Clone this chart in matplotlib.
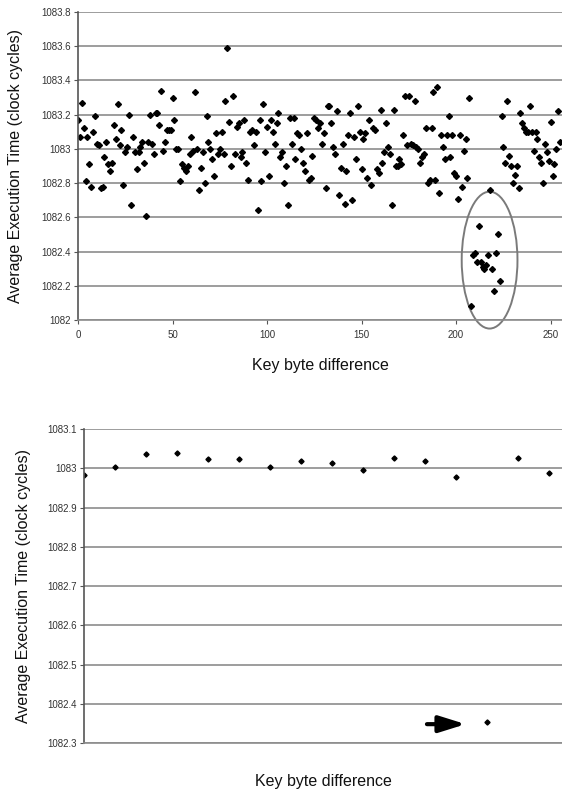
import numpy as np
import matplotlib.pyplot as plt
from matplotlib.patches import Ellipse
from matplotlib.ticker import FuncFormatter

plt.rcParams['font.family'] = ['Liberation Sans', 'DejaVu Sans']

# top chart: one average per key byte difference 0..255
top_y = [
    1083.17, 1083.07, 1083.27, 1083.12, 1082.81, 1083.07, 1082.91, 1082.78, 1083.10, 1083.19,
    1083.03, 1083.02, 1082.77, 1082.78, 1082.95, 1083.04, 1082.91, 1082.87, 1082.92, 1083.14,
    1083.06, 1083.26, 1083.02, 1083.11, 1082.79, 1082.98, 1083.01, 1083.20, 1082.67, 1083.07,
    1082.98, 1082.88, 1082.98, 1083.01, 1083.04, 1082.92, 1082.61, 1083.04, 1083.20, 1083.03,
    1082.97, 1083.21, 1083.21, 1083.14, 1083.34, 1082.99, 1083.04, 1083.11, 1083.11, 1083.11,
    1083.30, 1083.17, 1083.00, 1083.00, 1082.81, 1082.91, 1082.89, 1082.87, 1082.90, 1082.97,
    1083.07, 1082.99, 1083.33, 1083.00, 1082.76,
    1082.89, 1082.98, 1082.80, 1083.19, 1083.04, 1083.00, 1082.94, 1082.84, 1083.09, 1082.97,
    1083.00, 1083.10, 1082.97, 1083.28, 1083.59, 1083.16, 1082.90, 1083.31, 1082.97, 1083.13,
    1083.15, 1082.95, 1082.98, 1083.17, 1082.92, 1082.82, 1083.10, 1083.11, 1083.02, 1083.10,
    1082.64, 1083.17, 1082.81, 1083.26, 1082.98, 1083.13, 1082.84, 1083.17, 1083.10, 1083.03,
    1083.15, 1083.21, 1082.95, 1082.98, 1082.80, 1082.90, 1082.67, 1083.18, 1083.03, 1083.18,
    1082.94, 1083.09, 1083.08, 1083.00, 1082.92, 1082.87, 1083.09, 1082.82, 1082.83, 1082.96,
    1083.18, 1083.17, 1083.12, 1083.15, 1083.03, 1083.09, 1082.77, 1083.25, 1083.25, 1083.15,
    1083.01, 1082.97, 1083.22, 1082.73, 1082.89, 1083.03, 1082.68, 1082.87, 1083.08, 1083.21,
    1082.70, 1083.07, 1082.94, 1083.25, 1083.10, 1082.88, 1083.06, 1083.09, 1082.83, 1083.17,
    1082.79, 1083.12, 1083.11, 1082.88, 1082.86, 1083.23, 1082.92, 1082.98, 1083.15, 1083.01,
    1082.97, 1082.67, 1083.23, 1082.90, 1082.90, 1082.94, 1082.91, 1083.08, 1083.31, 1083.02,
    1083.31, 1083.03, 1083.02, 1083.28, 1083.01, 1083.00, 1082.92, 1082.95, 1082.97, 1083.12,
    1082.80, 1082.82, 1083.12, 1083.33, 1082.82, 1083.36, 1082.74, 1083.08, 1083.01, 1082.94,
    1083.08, 1083.19, 1082.95, 1083.08, 1082.86, 1082.84, 1082.71, 1083.08, 1082.78, 1082.99,
    1083.06, 1082.83, 1083.30, 1082.08, 1082.38, 1082.39, 1082.34, 1082.55, 1082.34, 1082.31,
    1082.30, 1082.32, 1082.38, 1082.76, 1082.30, 1082.17, 1082.39, 1082.50, 1082.23, 1083.19,
    1083.01, 1082.92, 1083.28, 1082.96, 1082.90, 1082.80, 1082.85, 1082.90, 1082.77, 1083.21,
    1083.15, 1083.12, 1083.10, 1083.10, 1083.25, 1083.10, 1082.99, 1083.10, 1083.06, 1082.95,
    1082.92, 1082.80, 1083.03, 1082.98, 1082.93, 1083.16, 1082.84, 1082.91, 1083.00, 1083.22,
    1083.04,
]
top_x = np.arange(len(top_y))

# bottom chart: 16 sampled key byte differences
bot_x = [0, 16, 32, 48, 64, 80, 96, 112, 128, 144, 160, 176, 192, 208, 224, 240]
bot_y = [1082.984, 1083.002, 1083.036, 1083.040, 1083.023, 1083.023, 1083.004, 1083.018,
         1083.013, 1082.996, 1083.026, 1083.019, 1082.978, 1082.353, 1083.026, 1082.988]

GRID = '#8c8c8c'
TXT = '#333333'
YLAB = 'Average Execution Time (clock cycles)'
XLAB = 'Key byte difference'

fig = plt.figure(figsize=(5.62, 7.96), dpi=100)


def style(ax, yticks):
    ax.set_yticks(yticks)
    ax.yaxis.set_major_formatter(FuncFormatter(lambda v, p: '%g' % round(v, 2)))
    ax.grid(axis='y', color=GRID, lw=1.2)
    ax.set_axisbelow(True)
    for s in ['top', 'right']:
        ax.spines[s].set_visible(False)
    ax.spines['left'].set_color('#555555')
    ax.spines['left'].set_linewidth(1.2)
    ax.spines['bottom'].set_color(GRID)
    ax.spines['bottom'].set_linewidth(1.2)
    ax.tick_params(axis='y', labelsize=7, colors='#555555', labelcolor=TXT,
                   length=3, width=0.8, pad=2)


# ---- top chart ----
ax1 = fig.add_axes([78 / 562, 1 - 320 / 796, 484 / 562, 308 / 796])
ax1.plot(top_x, top_y, 'D', color='black', ms=3.0, mec='black')
ax1.set_xlim(0, 256)
ax1.set_ylim(1082, 1083.8)
style(ax1, np.arange(1082, 1083.81, 0.2))
ax1.set_xticks([0, 50, 100, 150, 200, 250])
ax1.tick_params(axis='x', labelsize=7, colors='#555555', labelcolor=TXT,
                length=3, width=0.8, pad=4)
ax1.set_xlabel(XLAB, fontsize=11.5, color='#111111', labelpad=13.5)
ax1.set_ylabel(YLAB, fontsize=11.5, color='#111111', labelpad=13)
ax1.add_patch(Ellipse((217.7, 1082.35), 29.5, 0.80, fill=False,
                      edgecolor='#7a7a7a', lw=1.4, clip_on=False))

# ---- bottom chart ----
ax2 = fig.add_axes([84 / 562, 1 - 743 / 796, 478 / 562, 314 / 796])
ax2.plot(bot_x, bot_y, 'D', color='black', ms=2.6)
ax2.set_xlim(0, 246.7)
ax2.set_ylim(1082.3, 1083.1)
style(ax2, np.arange(1082.3, 1083.11, 0.1))
ax2.set_xticks([])
ax2.set_xlabel(XLAB, fontsize=11.5, color='#111111', labelpad=22)
ax2.set_ylabel(YLAB, fontsize=11.5, color='#111111', labelpad=12)
ax2.annotate('', xy=(197, 1082.348), xytext=(177, 1082.348),
             arrowprops=dict(arrowstyle='-|>,head_length=0.8,head_width=0.25',
                             color='black', lw=3.0, mutation_scale=20,
                             shrinkA=0, shrinkB=0))

fig.savefig('out.png', dpi=100)
